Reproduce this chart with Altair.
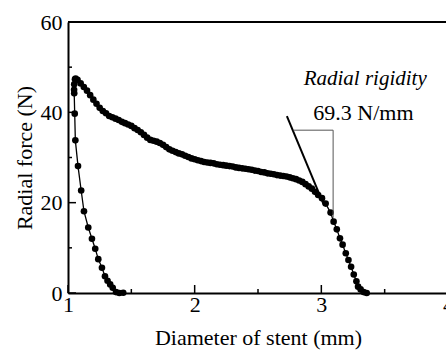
import altair as alt
import pandas as pd

# ---- data ----
load_x = [3.358, 3.334, 3.310, 3.290, 3.277, 3.256, 3.235, 3.214, 3.193, 3.168,
          3.147, 3.122, 3.097, 3.073, 3.034, 3.005, 2.975, 2.950, 2.925, 2.900,
          2.875, 2.850, 2.825, 2.800, 2.775, 2.750, 2.725, 2.700, 2.675, 2.650,
          2.625, 2.600, 2.575, 2.550, 2.525, 2.500, 2.475, 2.450, 2.425, 2.400,
          2.375, 2.350, 2.325, 2.300, 2.275, 2.250, 2.225, 2.200, 2.175, 2.150,
          2.125, 2.100, 2.075, 2.050, 2.025, 2.000, 1.975, 1.950, 1.925, 1.900,
          1.875, 1.850, 1.825, 1.800, 1.775, 1.750, 1.725, 1.700, 1.675, 1.650,
          1.625, 1.600, 1.575, 1.550, 1.525, 1.500, 1.475, 1.450, 1.425, 1.400,
          1.375, 1.350, 1.325, 1.300, 1.275, 1.250, 1.225, 1.200, 1.175, 1.150,
          1.125, 1.100, 1.075, 1.060]
load_y = [0.0, 0.2, 0.8, 1.4, 2.6, 4.1, 5.8, 7.3, 8.8, 10.7,
          12.1, 14.1, 15.8, 17.8, 19.8, 21.0, 21.7, 22.4, 23.1, 23.6,
          24.1, 24.6, 24.9, 25.2, 25.4, 25.6, 25.8, 25.9, 26.0, 26.1,
          26.3, 26.4, 26.5, 26.7, 26.8, 27.0, 27.1, 27.3, 27.4, 27.5,
          27.6, 27.7, 27.8, 28.0, 28.1, 28.2, 28.3, 28.4, 28.5, 28.7,
          28.8, 28.9, 29.0, 29.2, 29.4, 29.6, 29.8, 30.1, 30.4, 30.7,
          30.9, 31.2, 31.5, 31.8, 32.3, 32.8, 33.2, 33.5, 33.7, 33.9,
          34.4, 35.0, 35.6, 36.1, 36.5, 37.0, 37.3, 37.6, 37.9, 38.3,
          38.6, 38.9, 39.2, 39.8, 40.3, 41.0, 41.9, 42.8, 43.8, 44.8,
          45.6, 46.4, 47.2, 47.5]

unload_x = [1.055, 1.049, 1.048, 1.049, 1.053, 1.058, 1.079, 1.104, 1.126, 1.160,
            1.189, 1.215, 1.239, 1.268, 1.292, 1.312, 1.333, 1.353, 1.379, 1.405, 1.436]
unload_y = [47.3, 46.2, 45.0, 44.2, 39.7, 33.8, 28.1, 22.7, 18.1, 14.5,
            12.0, 9.8, 7.5, 5.6, 3.7, 2.7, 1.9, 1.15, 0.2, 0.0, 0.05]

tangent_x = [2.728, 3.018]
tangent_y = [39.14, 19.6]
bracket_x = [2.78, 3.093, 3.093]
bracket_y = [36.05, 36.05, 16.65]

x_major = [1, 2, 3, 4]
x_minor = [1.5, 2.5, 3.5]
y_major = [0, 20, 40, 60]
y_minor = [10, 30, 50]

annot_text = ["Radial rigidity", "69.3 N/mm"]
annot_x = [3.346, 3.332]
annot_y = [45.96, 38.4]
annot_style = ["italic", "normal"]

FONT = "Liberation Serif"
H = 271
XR = 380

xs = alt.Scale(domain=[1, 4], range=[0, XR], nice=False, zero=False)
ys = alt.Scale(domain=[0, 60], nice=False, zero=False)

curves = pd.DataFrame({
    "x": load_x + unload_x,
    "y": load_y + unload_y,
    "s": ["load"] * len(load_x) + ["unload"] * len(unload_x),
    "i": list(range(len(load_x))) + list(range(len(unload_x))),
})

x_axis = alt.Axis(values=x_major, title="Diameter of stent (mm)", ticks=False, tickSize=0,
                  labelPadding=1, labelFont=FONT, labelFontSize=22, labelColor="black",
                  labelFlush=False, labelOverlap=False, format="d",
                  titleFont=FONT, titleFontSize=22, titleFontWeight="normal", titleColor="black",
                  titleX=190, titleY=51, titleBaseline="alphabetic", titleAlign="center",
                  domainColor="black", domainWidth=2, grid=False)
y_axis = alt.Axis(values=y_major, title="Radial force (N)", ticks=False, tickSize=0,
                  labelPadding=6, labelFont=FONT, labelFontSize=22, labelColor="black",
                  labelFlush=False, labelOverlap=False, format="d",
                  titleFont=FONT, titleFontSize=22, titleFontWeight="normal", titleColor="black",
                  titleX=-37, titleY=135.5, titleAngle=270, titleBaseline="alphabetic",
                  titleAlign="center",
                  domainColor="black", domainWidth=2, grid=False)


def X():
    return alt.X("x:Q", scale=xs, axis=x_axis)


def Y():
    return alt.Y("y:Q", scale=ys, axis=y_axis)


lines = alt.Chart(curves).mark_line(color="black", strokeWidth=1.3).encode(
    x=X(), y=Y(), detail="s:N", order="i:Q")
dots = alt.Chart(curves).mark_circle(color="black", size=44, opacity=1).encode(x=X(), y=Y())

tangent = alt.Chart(pd.DataFrame({"x": tangent_x, "y": tangent_y})).mark_line(
    color="black", strokeWidth=2).encode(x=X(), y=Y())

bracket = alt.Chart(pd.DataFrame({"x": bracket_x, "y": bracket_y, "i": [0, 1, 2]})).mark_line(
    color="#555555", strokeWidth=1).encode(x=X(), y=Y(), order="i:Q")

adf = pd.DataFrame({"x": annot_x, "y": annot_y, "t": annot_text, "st": annot_style})
annot_it = alt.Chart(adf[adf.st == "italic"]).mark_text(
    font=FONT, fontSize=21, fontStyle="italic", color="black", align="center",
    baseline="alphabetic").encode(x=X(), y=Y(), text="t:N")
annot_n = alt.Chart(adf[adf.st == "normal"]).mark_text(
    font=FONT, fontSize=22, color="black", align="center",
    baseline="alphabetic").encode(x=X(), y=Y(), text="t:N")

xt_major = alt.Chart(pd.DataFrame({"x": x_major})).mark_rule(color="black", strokeWidth=1.5).encode(
    x=X(), y=alt.value(H), y2=alt.value(H - 8))
xt_minor = alt.Chart(pd.DataFrame({"x": x_minor})).mark_rule(color="black", strokeWidth=1.5).encode(
    x=X(), y=alt.value(H), y2=alt.value(H - 4))
yt_major = alt.Chart(pd.DataFrame({"y": y_major})).mark_rule(color="black", strokeWidth=1.5).encode(
    y=Y(), x=alt.value(0), x2=alt.value(8))
yt_minor = alt.Chart(pd.DataFrame({"y": y_minor})).mark_rule(color="black", strokeWidth=1.5).encode(
    y=Y(), x=alt.value(0), x2=alt.value(4))
top_line = alt.Chart(pd.DataFrame({"y": [60]})).mark_rule(color="black", strokeWidth=2).encode(
    y=Y(), x=alt.value(0), x2=alt.value(XR))

chart = alt.layer(
    lines, dots, tangent, bracket, annot_it, annot_n,
    xt_major, xt_minor, yt_major, yt_minor, top_line,
).properties(
    width=446 - 68, height=H,
    autosize=alt.AutoSizeParams(type="none"),
    padding={"left": 68, "top": 22, "right": 0, "bottom": 59},
    background="white",
).configure_view(stroke=None)

chart.save("out.html", embed_options={"renderer": "svg", "actions": False})
